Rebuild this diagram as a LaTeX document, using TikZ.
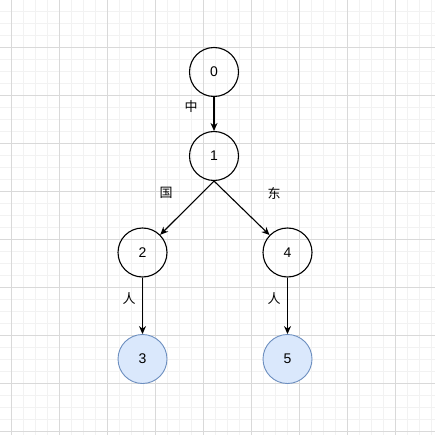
\documentclass[tikz,border=0pt]{standalone}
\usepackage{fontspec}
\setmainfont{Liberation Sans}
\newfontfamily\cjk{Noto Sans CJK SC}
\usetikzlibrary{arrows.meta}
\definecolor{leaffill}{HTML}{DAE8FC}
\definecolor{leafline}{HTML}{6C8EBF}
\begin{document}
\begin{tikzpicture}[
        x=1pt, y=-1pt,
        >={Stealth[length=8pt,width=7pt]},
        state/.style={circle, draw=black, line width=1.1pt, minimum size=49pt, inner sep=0pt, font=\fontsize{14}{16}\selectfont},
        leaf/.style={state, draw=leafline, fill=leaffill, line width=0.9pt},
        flow/.style={->, line width=1.1pt},
        lbl/.style={font=\cjk\fontsize{13}{15}\selectfont, inner sep=0pt},
        minorgrid/.style={draw=black!5, line width=0.6pt},
        majorgrid/.style={draw=black!15, line width=0.7pt}
    ]
        \useasboundingbox (0,0) rectangle (435,435);
        \fill[white] (0,0) rectangle (435,435);
        % background grid
        \foreach \k in {0,...,36} {
            \draw[minorgrid] ({-1+12*\k},0) -- ({-1+12*\k},435);
            \draw[minorgrid] (0,{-1+12*\k}) -- (435,{-1+12*\k});
        }
        \foreach \k in {0,...,9} {
            \draw[majorgrid] ({11+48*\k},0) -- ({11+48*\k},435);
            \draw[majorgrid] (0,{-1+48*\k}) -- (435,{-1+48*\k});
        }

        \node[state] (n0) at (214,72) {0};
        \node[state] (n1) at (214,156) {1};
        \node[state] (n2) at (142.5,252.5) {2};
        \node[state] (n4) at (287.5,252.5) {4};
        \node[leaf]  (n3) at (142.5,359) {3};
        \node[leaf]  (n5) at (287.5,359) {5};

        \node[lbl] (zhong) at (191,107) {中};
        \node[lbl] (guo)   at (166,193) {国};
        \node[lbl] (dong)  at (274,193) {东};
        \node[lbl] (renl)  at (129,299) {人};
        \node[lbl] (renr)  at (274,299) {人};

        \draw[flow] (n0) -- (n1);
        \draw[flow] (n1.south) -- (n2);
        \draw[flow] (n1.south) -- (n4);
        \draw[flow] (n2) -- (n3);
        \draw[flow] (n4) -- (n5);
    \end{tikzpicture}
\end{document}
